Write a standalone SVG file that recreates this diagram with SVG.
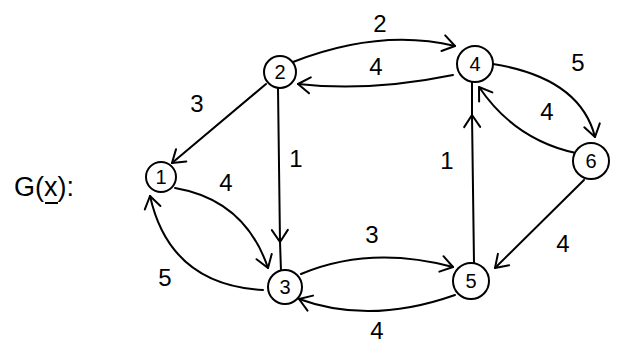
<svg xmlns="http://www.w3.org/2000/svg" width="620" height="354" viewBox="0 0 620 354">
<defs>
<style>
.n{fill:#fff;stroke:#000;stroke-width:2}
.nl{font-family:"Liberation Sans",Arial,sans-serif;font-size:20px;text-anchor:middle;dominant-baseline:central;fill:#000}
.e{fill:none;stroke:#000;stroke-width:2;stroke-linecap:round}
.el{font-family:"Liberation Sans",Arial,sans-serif;font-size:24px;text-anchor:middle;dominant-baseline:central;fill:#000}
</style>
<marker id="a" markerUnits="userSpaceOnUse" markerWidth="24" markerHeight="24" refX="14" refY="12" orient="auto">
<path d="M2,4 L14,12 L2,20" fill="none" stroke="#000" stroke-width="2" stroke-linecap="round" stroke-linejoin="round"/>
</marker>
</defs>
<rect width="620" height="354" fill="#fff"/>
<g id="connectors">
<path class="e" d="M293,62 Q380,28 455,46" marker-end="url(#a)"/>
<path class="e" d="M453,75 Q370,92 298,84" marker-end="url(#a)"/>
<path class="e" d="M266,84 L172,163" marker-end="url(#a)"/>
<path class="e" d="M278,88 L280,242" marker-end="url(#a)"/>
<path class="e" d="M280,242 L281,271"/>
<path class="e" d="M175,188 Q245,200 268,268" marker-end="url(#a)"/>
<path class="e" d="M263,290 Q170,285 150,196" marker-end="url(#a)"/>
<path class="e" d="M301,274 Q370,245 453,267" marker-end="url(#a)"/>
<path class="e" d="M455,295 Q370,325 299,299" marker-end="url(#a)"/>
<path class="e" d="M474,263 L472,115" marker-end="url(#a)"/>
<path class="e" d="M472,115 L472,82"/>
<path class="e" d="M493,64 Q580,78 595,137" marker-end="url(#a)"/>
<path class="e" d="M576,153 Q515,140 479,87" marker-end="url(#a)"/>
<path class="e" d="M584,180 L495,268" marker-end="url(#a)"/>
<text class="el" x="380" y="23">2</text>
<text class="el" x="376" y="66">4</text>
<text class="el" x="197" y="103">3</text>
<text class="el" x="296" y="158">1</text>
<text class="el" x="226" y="182">4</text>
<text class="el" x="165" y="277">5</text>
<text class="el" x="372" y="234">3</text>
<text class="el" x="377" y="330">4</text>
<text class="el" x="447" y="160">1</text>
<text class="el" x="578" y="62">5</text>
<text class="el" x="547" y="111">4</text>
<text class="el" x="563" y="243">4</text>
</g>
<g id="label-G">
<text x="14" y="196" font-family="Liberation Sans,Arial,sans-serif" font-size="27" fill="#000">G(x):</text>
<line x1="45" y1="203" x2="58" y2="203" stroke="#000" stroke-width="2"/>
</g>
<g id="node1"><circle class="n" cx="161" cy="177" r="15"/><text class="nl" x="161" y="177">1</text></g>
<g id="node2"><circle class="n" cx="280" cy="72" r="16"/><text class="nl" x="280" y="72">2</text></g>
<g id="node3"><circle class="n" cx="285" cy="287" r="17"/><text class="nl" x="285" y="287">3</text></g>
<g id="node4"><circle class="n" cx="475" cy="64" r="18"/><text class="nl" x="475" y="64">4</text></g>
<g id="node5"><circle class="n" cx="471" cy="281" r="18"/><text class="nl" x="471" y="281">5</text></g>
<g id="node6"><circle class="n" cx="591" cy="161" r="18"/><text class="nl" x="591" y="161">6</text></g>
</svg>
